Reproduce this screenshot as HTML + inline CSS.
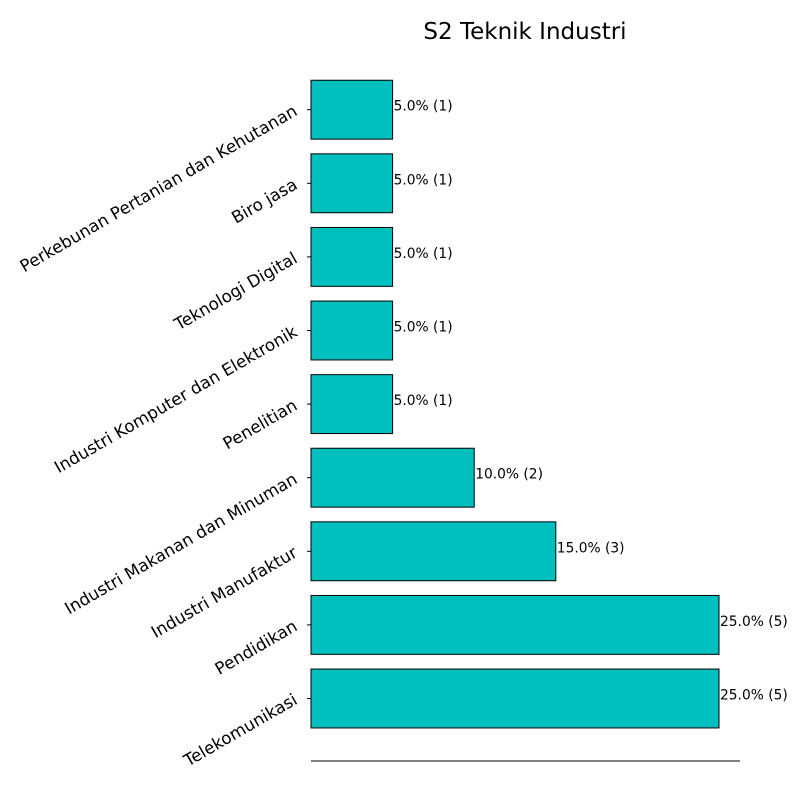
<!DOCTYPE html>
<html><head><meta charset="utf-8"><style>body{margin:0;background:#fff}svg{display:block}</style></head>
<body>
<svg id="chart" width="800" height="800" xmlns="http://www.w3.org/2000/svg" font-family="DejaVu Sans, Liberation Sans, sans-serif">
<rect width="800" height="800" fill="#fff"/>
<text x="525" y="39" text-anchor="middle" font-size="23">S2 Teknik Industri</text>
<line x1="311" y1="761" x2="740" y2="761" stroke="#000" stroke-width="1"/>
<g id="bars"></g>
</svg>
<script>
const categories = ["Telekomunikasi","Pendidikan","Industri Manufaktur","Industri Makanan dan Minuman","Penelitian","Industri Komputer dan Elektronik","Teknologi Digital","Biro jasa","Perkebunan Pertanian dan Kehutanan"];
const counts = [5,5,3,2,1,1,1,1,1];
const percents = [25.0,25.0,15.0,10.0,5.0,5.0,5.0,5.0,5.0];

const NS = "http://www.w3.org/2000/svg";
const g = document.getElementById("bars");
const x0 = 311, pxPerUnit = 81.6;
const xScale = v => x0 + v * pxPerUnit;
const yScale = i => 698.5 - i * 73.6;
const barH = 58.9;

categories.forEach((c, i) => {
  const yc = yScale(i);
  const r = document.createElementNS(NS, "rect");
  r.setAttribute("x", xScale(0));
  r.setAttribute("y", yc - barH / 2);
  r.setAttribute("width", xScale(counts[i]) - xScale(0));
  r.setAttribute("height", barH);
  r.setAttribute("fill", "#00bfbf");
  r.setAttribute("stroke", "#000");
  r.setAttribute("stroke-width", "1");
  
  
  g.appendChild(r);

  const t = document.createElementNS(NS, "text");
  t.setAttribute("x", xScale(counts[i]) + 1);
  t.setAttribute("y", yc + 1);
  t.setAttribute("font-size", "13.8");
  t.textContent = percents[i].toFixed(1) + "% (" + counts[i] + ")";
  
  
  g.appendChild(t);

  const tk = document.createElementNS(NS, "line");
  tk.setAttribute("x1", x0 - 4); tk.setAttribute("x2", x0);
  tk.setAttribute("y1", yc); tk.setAttribute("y2", yc);
  tk.setAttribute("stroke", "#000");
  
  
  g.appendChild(tk);

  const lb = document.createElementNS(NS, "text");
  lb.setAttribute("x", 297);
  lb.setAttribute("y", yc + 5);
  lb.setAttribute("text-anchor", "end");
  lb.setAttribute("font-size", "16.8");
  lb.setAttribute("transform", "rotate(-30 297 " + (yc + 2) + ")");
  lb.textContent = c;
  
  
  g.appendChild(lb);
});
</script>
</body></html>
